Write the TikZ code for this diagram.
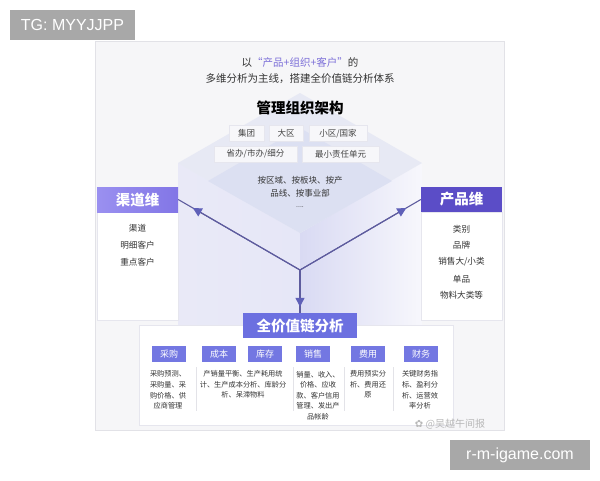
\documentclass[tikz,border=0pt]{standalone}
\usepackage{fontspec}
\setmainfont{Noto Sans CJK SC}
\newfontfamily\latinfont{Liberation Sans}
\newfontfamily\symfont{DejaVu Sans}
\usetikzlibrary{arrows.meta,calc}
\definecolor{panelbg}{HTML}{F6F6F8}
\definecolor{panelline}{HTML}{E2E2E7}
\definecolor{textdark}{HTML}{333333}
\definecolor{textgray}{HTML}{444444}
\definecolor{accent}{HTML}{7C6FD8}
\definecolor{qdleft}{HTML}{9A90F0}
\definecolor{qdright}{HTML}{8276E6}
\definecolor{cpcol}{HTML}{5B4DC7}
\definecolor{mainblue}{HTML}{6C70E0}
\definecolor{subblue}{HTML}{7377E2}
\definecolor{boxfill}{HTML}{F7F7FA}
\definecolor{boxline}{HTML}{E6E6EE}
\definecolor{linepurple}{HTML}{5E5C9E}
\definecolor{tippurple}{HTML}{5F60B8}
\definecolor{diaouter}{HTML}{E7E9F4}
\definecolor{diainner}{HTML}{DCE0F2}
\definecolor{facelav}{HTML}{D9DAF3}
\definecolor{facewhite}{HTML}{F7F7FC}
\definecolor{wmgray}{HTML}{A8A8A8}
\definecolor{sepgray}{HTML}{E3E3E8}
\begin{document}
\begin{tikzpicture}[x=1pt,y=-1pt,
  colhead/.style={text=white, font=\fontsize{14.5}{16}\selectfont\bfseries, minimum width=81, minimum height=25, inner sep=0},
  colbody/.style={fill=white, draw=boxline, line width=0.4, minimum width=81, minimum height=108, inner sep=0},
  coltext/.style={font=\fontsize{8.6}{10}\selectfont, text=textdark, inner sep=0},
  orgbox/.style={fill=boxfill, draw=boxline, line width=0.4, font=\fontsize{8.5}{10}\selectfont, text=textgray, minimum height=16, inner sep=0},
  subhead/.style={fill=subblue, text=white, font=\fontsize{9}{10}\selectfont, minimum width=34, minimum height=16, inner sep=0},
  smalltext/.style={font=\fontsize{7.2}{10.6}\selectfont, align=center, text=textdark, inner sep=0},
  yline/.style={draw=linepurple, line width=1.1},
  tiparrow/.style={draw=linepurple, line width=1.1, -{Triangle[length=9pt,width=9pt,color=tippurple]}},
  sepline/.style={draw=sepgray, line width=0.6},
  wmbox/.style={fill=wmgray, text=white, font=\latinfont\fontsize{16}{18}\selectfont, inner sep=0}
]
\useasboundingbox (0,0) rectangle (600,480);
\fill[white] (0,0) rectangle (600,480);

% main panel
\draw[fill=panelbg, draw=panelline, line width=0.6] (95,41) rectangle (504,430);

% cube faces
\shade[left color=facelav, right color=facewhite] (178,163) -- (300,233) -- (300,325) -- (178,325) -- cycle;
\shade[left color=facewhite, right color=facelav, opacity=0.55] (178,163) -- (300,233) -- (300,325) -- (178,325) -- cycle;
\shade[left color=facelav, right color=facewhite] (300,233) -- (422,163) -- (422,325) -- (300,325) -- cycle;
% top diamond
\fill[diaouter] (300,93) -- (422,163) -- (300,233) -- (178,163) -- cycle;
\fill[diainner] (300,128) -- (392,181) -- (300,233) -- (208,181) -- cycle;

% title
\node[font=\fontsize{10.5}{12}\selectfont, text=textdark] (t1) at (300,62) {以\textcolor{accent}{“产品+组织+客户”}的};
\node[font=\fontsize{10.5}{12}\selectfont, text=textdark] (t2) at (300,79) {多维分析为主线，搭建全价值链分析体系};
\node[font=\fontsize{14.5}{16}\selectfont\bfseries, text=black] (mg) at (300,108) {管理组织架构};

% org boxes
\node[orgbox, minimum width=35] (b1) at (246.5,133.5) {集团};
\node[orgbox, minimum width=34] (b2) at (286,133.5) {大区};
\node[orgbox, minimum width=58] (b3) at (338,133.5) {小区/国家};
\node[orgbox, minimum width=83] (b4) at (255.5,154) {省办/市办/细分};
\node[orgbox, minimum width=77] (b5) at (340.5,154) {最小责任单元};

\node[font=\fontsize{8.5}{10}\selectfont, text=textdark] (m1) at (300,180) {按区域、按板块、按产};
\node[font=\fontsize{8.5}{10}\selectfont, text=textdark] (m2) at (300,193) {品线、按事业部};
\node[font=\fontsize{7}{8}\selectfont, text=textdark] (m3) at (300,207) {....};

% left column
\node[colbody] (qdb) at (137.5,266) {};
\node[colhead, left color=qdleft, right color=qdright] (qd) at (137.5,199.5) {渠道维};
\node[coltext] (q1) at (137.5,228) {渠道};
\node[coltext] (q2) at (137.5,245) {明细客户};
\node[coltext] (q3) at (137.5,262) {重点客户};

% right column
\node[colbody] (cpb) at (461.5,266) {};
\node[colhead, fill=cpcol] (cp) at (461.5,199.5) {产品维};
\node[coltext] (c1) at (461.5,229) {类别};
\node[coltext] (c2) at (461.5,245) {品牌};
\node[coltext] (c3) at (461.5,262) {销售大/小类};
\node[coltext] (c4) at (461.5,279) {单品};
\node[coltext] (c5) at (461.5,295) {物料大类等};

% bottom panel
\node[fill=white, draw=boxline, line width=0.5, minimum width=314, minimum height=100, inner sep=0] (bp) at (296,375) {};
\node[fill=mainblue, text=white, font=\fontsize{14.5}{16}\selectfont\bfseries, minimum width=114, minimum height=25, inner sep=0] (vc) at (300,325.5) {全价值链分析};

% Y connectors
\coordinate (J) at (300,270);
\draw[yline] (J) -- (qd.east);
\draw[yline] (J) -- (cp.west);
\draw[yline] (J) -- (vc.north);
\draw[tiparrow] (J) -- ($(J)!0.88!(qd.east)$);
\draw[tiparrow] (J) -- ($(J)!0.88!(cp.west)$);
\draw[tiparrow] (J) -- ($(J)!0.86!(vc.north)$);

% sub headers
\node[subhead] (s1) at (169,354) {采购};
\node[subhead] (s2) at (219,354) {成本};
\node[subhead] (s3) at (265,354) {库存};
\node[subhead] (s4) at (313,354) {销售};
\node[subhead] (s5) at (368,354) {费用};
\node[subhead] (s6) at (421,354) {财务};

% separators
\draw[sepline] (196,367) -- (196,411);
\draw[sepline] (293,367) -- (293,411);
\draw[sepline] (344,367) -- (344,411);
\draw[sepline] (393,367) -- (393,411);

% descriptions
\node[smalltext] (d1) at (168,390) {采购预测、\\采购量、采\\购价格、供\\应商管理};
\node[smalltext] (d2) at (243,384.5) {产销量平衡、生产耗用统\\计、生产成本分析、库龄分\\析、呆滞物料};
\node[smalltext] (d3) at (318,395.5) {销量、收入、\\价格、应收\\款、客户信用\\管理、发出产\\品帐龄};
\node[smalltext] (d4) at (368,384.5) {费用预实分\\析、费用还\\原};
\node[smalltext] (d5) at (420,390) {关键财务指\\标、盈利分\\析、运营效\\率分析};

% watermark
\node[text=white!72!black, font=\fontsize{10}{12}\selectfont, inner sep=0] (wm) at (450,424) {{\symfont ✿} @吴越午间报};

% corner boxes
\node[wmbox, minimum width=125, minimum height=30] (tg) at (72.5,25) {TG: MYYJJPP};
\node[wmbox, minimum width=140, minimum height=30] (rm) at (520,455) {r-m-igame.com};
\end{tikzpicture}
\end{document}
